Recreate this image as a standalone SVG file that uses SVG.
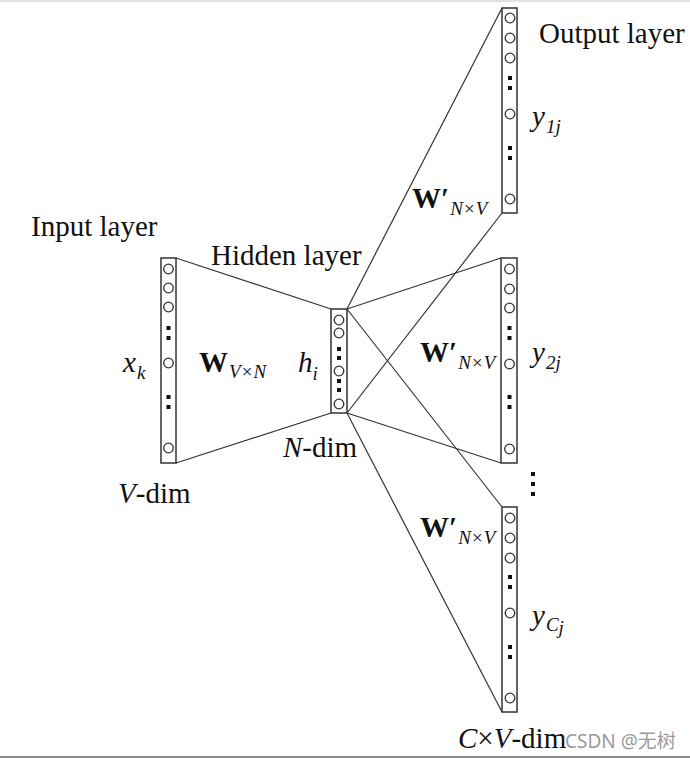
<svg xmlns="http://www.w3.org/2000/svg" width="690" height="758" viewBox="0 0 690 758">
<style>
.col{fill:#fff;stroke:#333;stroke-width:1.5}
.n{fill:#fff;stroke:#333;stroke-width:1.3}
.d{fill:#111}
.ln{stroke:#333;stroke-width:1.2;fill:none}
text{font-family:"Liberation Serif","Times New Roman",serif;fill:#111}
.t{font-size:29px}
.it{font-style:italic}
.b{font-weight:bold}
.s{font-size:19px;font-style:italic;font-weight:normal}
.wm{font-family:"Noto Sans","Noto Sans CJK SC",sans-serif;font-size:19px;fill:#9a9a9a}
</style>
<rect x="0" y="0" width="690" height="758" fill="#fff"/>
<rect x="0" y="0" width="690" height="2" fill="#e2e2e2"/>
<rect x="0" y="756" width="690" height="2" fill="#8a8a8a"/>
<g id="connectors">
<line class="ln" x1="176" y1="258" x2="331" y2="309"/>
<line class="ln" x1="176" y1="463" x2="331" y2="413"/>
<line class="ln" x1="347" y1="309" x2="502" y2="8"/>
<line class="ln" x1="347" y1="309" x2="501" y2="258"/>
<line class="ln" x1="347" y1="309" x2="502" y2="507"/>
<line class="ln" x1="347" y1="413" x2="502" y2="213"/>
<line class="ln" x1="347" y1="413" x2="501" y2="463"/>
<line class="ln" x1="347" y1="413" x2="502" y2="712"/>
</g>
<g id="input-layer">
<rect class="col" x="161" y="258" width="15" height="205"/>
<circle class="n" cx="168.5" cy="269" r="4.8"/>
<circle class="n" cx="168.5" cy="288" r="4.8"/>
<circle class="n" cx="168.5" cy="307" r="4.8"/>
<rect class="d" x="166.5" y="326" width="4" height="4"/>
<rect class="d" x="166.5" y="336" width="4" height="4"/>
<circle class="n" cx="168.5" cy="363" r="4.8"/>
<rect class="d" x="166.5" y="395" width="4" height="4"/>
<rect class="d" x="166.5" y="405" width="4" height="4"/>
<circle class="n" cx="168.5" cy="448" r="4.8"/>
<text class="t" x="31" y="236">Input layer</text>
<text class="t it" x="123" y="372">x<tspan class="s" dx="1" dy="7">k</tspan></text>
<text class="t b" x="199" y="372">W<tspan class="s" dx="1" dy="6">V×N</tspan></text>
<text class="t it" x="118" y="503">V<tspan font-style="normal">-dim</tspan></text>
</g>
<g id="hidden-layer">
<rect class="col" x="331" y="309" width="16" height="104"/>
<circle class="n" cx="339" cy="320" r="4.8"/>
<circle class="n" cx="339" cy="333" r="4.8"/>
<rect class="d" x="337" y="347" width="4" height="4"/>
<rect class="d" x="337" y="356" width="4" height="4"/>
<circle class="n" cx="339" cy="371" r="4.8"/>
<rect class="d" x="337" y="379" width="4" height="4"/>
<rect class="d" x="337" y="388" width="4" height="4"/>
<circle class="n" cx="339" cy="404" r="4.8"/>
<text class="t" x="211" y="265">Hidden layer</text>
<text class="t it" x="298" y="372">h<tspan class="s" dx="0" dy="8">i</tspan></text>
<text class="t it" x="283" y="457">N<tspan font-style="normal">-dim</tspan></text>
</g>
<g id="output-1">
<rect class="col" x="502" y="8" width="15" height="205"/>
<circle class="n" cx="510" cy="18" r="4.8"/>
<circle class="n" cx="510" cy="38" r="4.8"/>
<circle class="n" cx="510" cy="58" r="4.8"/>
<rect class="d" x="508" y="76" width="4" height="4"/>
<rect class="d" x="508" y="86" width="4" height="4"/>
<circle class="n" cx="510" cy="114" r="4.8"/>
<rect class="d" x="508" y="146" width="4" height="4"/>
<rect class="d" x="508" y="156" width="4" height="4"/>
<circle class="n" cx="510" cy="199" r="4.8"/>
<text class="t" x="539" y="43">Output layer</text>
<text class="t it" x="532" y="126">y<tspan class="s" dx="1" dy="7">1j</tspan></text>
<text class="t b" x="412" y="208">W′<tspan class="s" dx="1" dy="7">N×V</tspan></text>
</g>
<g id="output-2">
<rect class="col" x="501" y="258" width="16" height="205"/>
<circle class="n" cx="509.5" cy="269" r="4.8"/>
<circle class="n" cx="509.5" cy="289" r="4.8"/>
<circle class="n" cx="509.5" cy="308" r="4.8"/>
<rect class="d" x="507.5" y="326" width="4" height="4"/>
<rect class="d" x="507.5" y="336" width="4" height="4"/>
<circle class="n" cx="509.5" cy="364" r="4.8"/>
<rect class="d" x="507.5" y="395" width="4" height="4"/>
<rect class="d" x="507.5" y="405" width="4" height="4"/>
<circle class="n" cx="509.5" cy="449" r="4.8"/>
<text class="t it" x="532" y="362">y<tspan class="s" dx="1" dy="7">2j</tspan></text>
<text class="t b" x="420" y="362">W′<tspan class="s" dx="1" dy="7">N×V</tspan></text>
</g>
<g id="ellipsis">
<rect class="d" x="531" y="472" width="4" height="4"/>
<rect class="d" x="531" y="482" width="4" height="4"/>
<rect class="d" x="531" y="492" width="4" height="4"/>
</g>
<g id="output-c">
<rect class="col" x="502" y="507" width="15" height="205"/>
<circle class="n" cx="510" cy="518" r="4.8"/>
<circle class="n" cx="510" cy="538" r="4.8"/>
<circle class="n" cx="510" cy="558" r="4.8"/>
<rect class="d" x="508" y="575" width="4" height="4"/>
<rect class="d" x="508" y="585" width="4" height="4"/>
<circle class="n" cx="510" cy="613" r="4.8"/>
<rect class="d" x="508" y="645" width="4" height="4"/>
<rect class="d" x="508" y="655" width="4" height="4"/>
<circle class="n" cx="510" cy="698" r="4.8"/>
<text class="t it" x="532" y="625">y<tspan class="s" dx="1" dy="6">C</tspan><tspan class="s" font-size="14px" dy="3">j</tspan></text>
<text class="t b" x="420" y="537">W′<tspan class="s" dx="1" dy="7">N×V</tspan></text>
<text class="t it" x="458" y="748">C<tspan font-style="normal">×</tspan>V<tspan font-style="normal">-dim</tspan></text>
</g>
<text class="wm" x="565" y="748">CSDN @无树</text>
</svg>
